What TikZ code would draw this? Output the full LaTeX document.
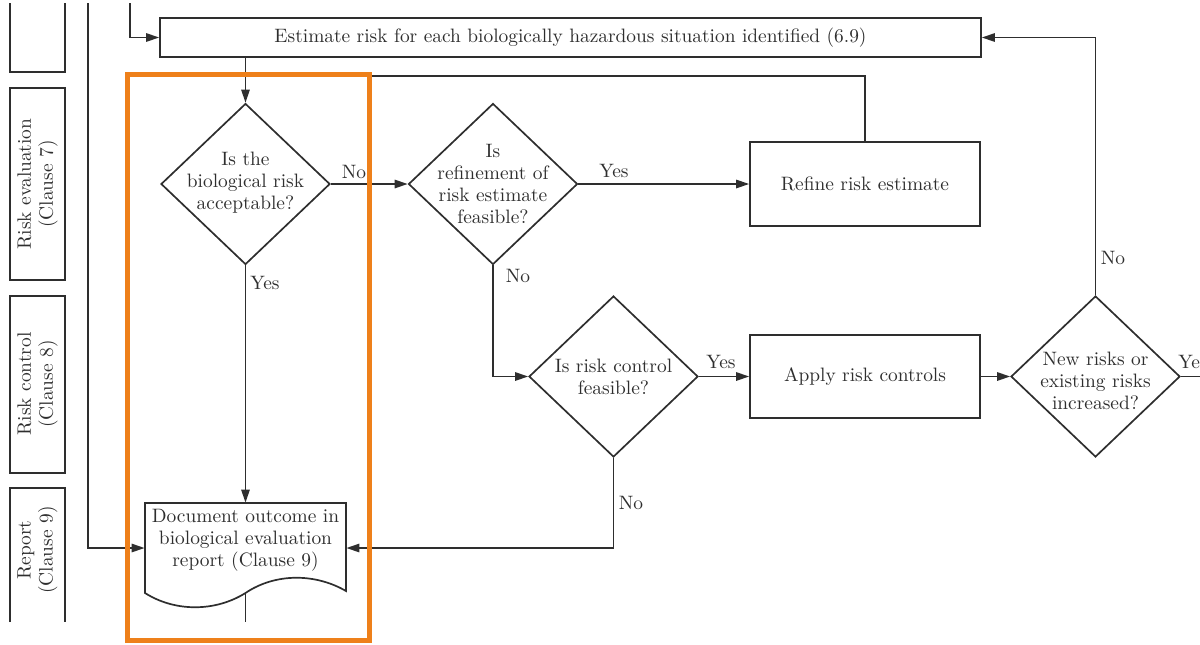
\documentclass[tikz,border=0pt]{standalone}
\usetikzlibrary{shapes.geometric,arrows.meta}
\definecolor{ink}{gray}{0.18}
\definecolor{hl}{RGB}{238,128,26}
\begin{document}
\begin{tikzpicture}[x=0.5pt,y=-0.5pt,
  every node/.style={font=\fontsize{9.7}{11}\selectfont, text=ink},
  line/.style={draw=ink, line width=0.85pt},
  arr/.style={line, -{Triangle[length=6.5pt,width=4.2pt]}},
  procbox/.style={rectangle, draw=ink, line width=0.85pt, inner sep=0pt},
  decision/.style={diamond, draw=ink, line width=0.85pt, inner sep=0pt,
                   minimum width=84.5pt, minimum height=80.5pt},
  txt/.style={align=center, inner sep=0pt},
  lbl/.style={inner sep=0pt},
  lane/.style={rectangle, draw=ink, line width=0.85pt, minimum width=27.5pt, inner sep=0pt},
]
\useasboundingbox (0,0) rectangle (1200,644);

% swim lanes on the left
\draw[line] (10,3) -- (10,72) -- (65,72) -- (65,3);
\node[lane, minimum height=96pt] (lane7) at (37.5,184) {};
\node[txt, rotate=90] (lane7t) at (37.5,184) {Risk evaluation\\(Clause 7)};
\node[lane, minimum height=88.5pt] (lane8) at (37.5,384.5) {};
\node[txt, rotate=90] (lane8t) at (37.5,384) {Risk control\\(Clause 8)};
\draw[line] (10,622) -- (10,488) -- (65,488) -- (65,622);
\node[txt, rotate=90] (lane9t) at (37.5,550) {Report\\(Clause 9)};

% process steps
\node[procbox, minimum width=410.5pt, minimum height=19.5pt] (est) at (570.5,37.5)
  {Estimate risk for each biologically hazardous situation identified (6.9)};
\node[decision] (acc) at (245.5,184) {};
\node[txt] (acct) at (245.5,183) {Is the\\biological risk\\acceptable?};
\node[decision] (ref) at (493,184) {};
\node[txt] (reft) at (493,184) {Is\\refinement of\\risk estimate\\feasible?};
\node[procbox, minimum width=115pt, minimum height=42pt] (refine) at (865,184) {Refine risk estimate};
\node[decision] (ctl) at (613.5,376.5) {};
\node[txt] (ctlt) at (613.5,377) {Is risk control\\feasible?};
\node[procbox, minimum width=115pt, minimum height=41.5pt] (apply) at (865,376.5) {Apply risk controls};
\node[decision] (new) at (1095.5,376.5) {};
\node[txt] (newt) at (1095.5,381) {New risks or\\existing risks\\increased?};

% document symbol
\node[minimum width=100.5pt, minimum height=45pt, inner sep=0pt] (doc) at (245.5,548) {};
\draw[line] (145,503) -- (346,503) -- (346,591)
  .. controls (315,573) and (275,573) .. (245.5,593)
  .. controls (215,612) and (175,612) .. (145,593) -- cycle;
\node[txt] (doct) at (245.5,540) {Document outcome in\\biological evaluation\\report (Clause 9)};

% free ends
\coordinate (inA) at (88,3);
\coordinate (inB) at (130,3);
\coordinate (fb) at (245.5,76);
\coordinate (outR) at (1200,376.5);
\coordinate (outD) at (245.5,622);

% connectors
\draw[arr] (inB) |- (est.west);
\draw[arr] (inA) |- (doc.west);
\draw[arr] (acc.north |- est.south) -- (acc.north);
\draw[arr] (acc.east) -- (ref.west);
\draw[arr] (ref.east) -- (refine.west);
\draw[line] (refine.north) |- (fb);
\draw[arr] (ref.south) |- (ctl.west);
\draw[arr] (ctl.east) -- (apply.west);
\draw[arr] (apply.east) -- (new.west);
\draw[arr] (new.north) |- (est.east);
\draw[line] (new.east) -- (outR);
\draw[arr] (ctl.south) |- (doc.east);
\draw[arr] (acc.south) -- (doc.north);
\draw[line] (doc.south) -- (outD);

% branch labels
\node[lbl] (l1) at (354,172) {No};
\node[lbl] (l2) at (614,171) {Yes};
\node[lbl] (l3) at (265,283) {Yes};
\node[lbl] (l4) at (518,276) {No};
\node[lbl] (l5) at (721,362) {Yes};
\node[lbl] (l6) at (631,503) {No};
\node[lbl] (l7) at (1113,258) {No};
\node[lbl, anchor=west] (l8) at (1178,362) {Ye};

% highlight frame
\draw[hl, line width=2.5pt] (127.5,74.5) rectangle (369.5,640);
\end{tikzpicture}
\end{document}
